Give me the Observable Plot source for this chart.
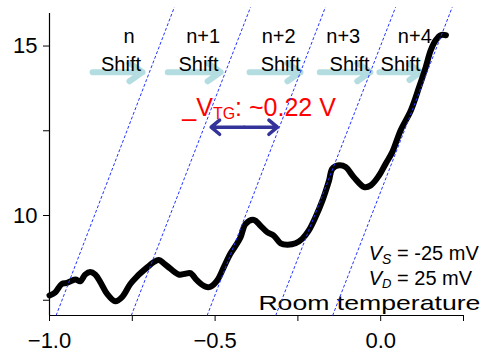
<!DOCTYPE html>
<html><head><meta charset="utf-8">
<script src="https://cdn.jsdelivr.net/npm/d3@7"></script>
<script src="https://cdn.jsdelivr.net/npm/@observablehq/plot@0.6"></script>
<style>html,body{margin:0;padding:0;background:#fff;}</style>
</head><body><div id="chart"></div>
<script>
// Measured curve (top-gate voltage in V, current)
const vtg = [-1.000,-0.983,-0.963,-0.947,-0.922,-0.907,-0.892,-0.877,-0.862,-0.846,-0.826,-0.801,-0.781,-0.756,-0.736,-0.705,-0.686,-0.670,-0.655,-0.635,-0.610,-0.590,-0.575,-0.554,-0.529,-0.514,-0.494,-0.474,-0.454,-0.438,-0.423,-0.408,-0.383,-0.363,-0.343,-0.323,-0.302,-0.282,-0.257,-0.237,-0.217,-0.197,-0.176,-0.156,-0.146,-0.126,-0.106,-0.081,-0.050,-0.030,-0.005,0.015,0.035,0.060,0.091,0.116,0.136,0.151,0.166,0.181,0.197];
const current = [7.64,7.73,7.98,8.01,8.11,8.06,8.26,8.33,8.26,8.03,7.69,7.47,7.59,7.98,8.20,8.47,8.62,8.69,8.59,8.43,8.26,8.28,8.30,8.08,7.90,7.90,8.08,8.47,8.87,9.11,9.36,9.75,9.87,9.70,9.51,9.41,9.18,9.14,9.18,9.31,9.56,9.95,10.44,11.03,11.38,11.48,11.43,11.13,10.84,10.89,11.18,11.53,11.87,12.51,13.10,13.79,14.38,14.87,15.17,15.32,15.32];

// Dashed shift lines (x at bottom and at top)
const shiftLineBottomX = [-0.980,-0.753,-0.524,-0.317,-0.145];
const shiftLineTopX = [-0.623,-0.393,-0.167,0.045,0.216];
const shiftLineY = [7.05, 16.146];

// Annotations
const orderLabels = ["n","n+1","n+2","n+3","n+4"];
const orderX = [-0.760,-0.536,-0.308,-0.113,0.103];
const orderY = 15.10;
const shiftWord = "Shift";
const shiftX = [-0.784,-0.550,-0.302,-0.094,0.060];
const shiftY = 14.26;
const shiftArrowX1 = [-0.870,-0.643,-0.396,-0.184,-0.004];
const shiftArrowX2 = [-0.719,-0.483,-0.242,-0.031,0.121];
const shiftArrowY = 14.23;
const deltaLabel = "_V_TG: ~0.22 V";
const deltaLabelPos = {x: -0.599, y: 12.95};
const deltaArrow = {x1: -0.512, x2: -0.312, y: 12.606};
const vsLabel = "V_S = -25 mV";
const vdLabel = "V_D = 25 mV";
const roomLabel = "Room temperature";
const condX = -0.036, vsY = 8.68, vdY = 7.945, roomX = 0.301, roomY = 7.20;

// Axes
const xDomain = [-1, 0.25];
const yDomain = [7.05, 15.96];
const xTickValues = [-1, -0.75, -0.5, -0.25, 0, 0.25];
const xTickLabels = ["\u22121.0", "", "\u22120.5", "", "0.0", ""];
const yTickValues = [7.5, 10, 12.5, 15];
const yTickLabels = ["", "10", "", "15"];

const points = vtg.map((x, i) => ({x, y: current[i]}));
const shiftLines = shiftLineBottomX.map((x1, i) => ({x1, x2: shiftLineTopX[i], y1: shiftLineY[0], y2: shiftLineY[1]}));
const orders = orderLabels.map((t, i) => ({t, x: orderX[i], y: orderY}));
const shifts = shiftX.map(x => ({t: shiftWord, x, y: shiftY}));
const shiftArrows = shiftArrowX1.map((x1, i) => ({x1, x2: shiftArrowX2[i], y: shiftArrowY}));
const mid = (deltaArrow.x1 + deltaArrow.x2) / 2;
const dArrows = [{x1: mid, x2: deltaArrow.x1, y: deltaArrow.y}, {x1: mid, x2: deltaArrow.x2, y: deltaArrow.y}];

const font = "'Liberation Sans', Arial, sans-serif";

const chart = Plot.plot({
  width: 486, height: 354,
  marginLeft: 49, marginRight: 23, marginTop: 13, marginBottom: 39,
  style: {fontFamily: font, fontSize: "22px", color: "#000", background: "#fff", overflow: "visible"},
  x: {domain: xDomain, ticks: xTickValues, tickFormat: d => xTickLabels[xTickValues.indexOf(d)], tickSize: 6, tickPadding: 11, label: null},
  y: {domain: yDomain, ticks: yTickValues, tickFormat: d => yTickLabels[yTickValues.indexOf(d)], tickSize: 6, tickPadding: 6, label: null},
  marks: [
    Plot.ruleX([xDomain[0]], {y1: yDomain[0], y2: yDomain[1], stroke: "#000", strokeWidth: 1.2}),
    Plot.ruleY([yDomain[0]], {x1: xDomain[0], x2: xDomain[1], stroke: "#000", strokeWidth: 1.2}),
    Plot.arrow(shiftArrows, {x1: "x1", x2: "x2", y1: "y", y2: "y", stroke: "#b3dde0", strokeWidth: 6, headLength: 4, headAngle: 70}),
    Plot.text(orders, {x: "x", y: "y", text: "t", fontSize: 20, textAnchor: "middle", lineAnchor: "bottom", fill: "#000"}),
    Plot.text(shifts, {x: "x", y: "y", text: "t", fontSize: 20, textAnchor: "middle", lineAnchor: "bottom", fill: "#000"}),
    Plot.text([deltaLabel], {x: deltaLabelPos.x, y: deltaLabelPos.y, text: d => d, fontSize: 25, textAnchor: "start", lineAnchor: "bottom", fill: "#ff0000"}),
    Plot.arrow(dArrows, {x1: "x1", x2: "x2", y1: "y", y2: "y", stroke: "#333399", strokeWidth: 3.5, headLength: 11, headAngle: 80}),
    Plot.text([vsLabel], {x: condX, y: vsY, text: d => d, fontSize: 20, textAnchor: "start", lineAnchor: "bottom", fill: "#000"}),
    Plot.text([vdLabel], {x: condX, y: vdY, text: d => d, fontSize: 20, textAnchor: "start", lineAnchor: "bottom", fill: "#000"}),
    Plot.text([roomLabel], {x: roomX, y: roomY, text: d => d, fontSize: 21, textAnchor: "end", lineAnchor: "bottom", fill: "#000"}),
    Plot.line(points, {x: "x", y: "y", stroke: "#000", strokeWidth: 6, curve: "catmull-rom", strokeLinejoin: "round", strokeLinecap: "round"}),
    Plot.link(shiftLines, {x1: "x1", x2: "x2", y1: "y1", y2: "y2", stroke: "#2233ff", strokeWidth: 1, strokeDasharray: "3,2"})
  ]
});

function enrich(svg, plain, parts) {
  d3.select(svg).selectAll("text").filter(function () { return this.textContent === plain; }).each(function () {
    const t = d3.select(this);
    t.text(null);
    let shift = 0;
    parts.forEach(p => {
      const ts = t.append("tspan").text(p.t);
      if (p.italic) ts.attr("font-style", "italic");
      if (p.size) ts.attr("font-size", p.size);
      const target = p.shift || 0;
      if (target !== shift) { ts.attr("dy", target - shift); shift = target; }
    });
  });
}
enrich(chart, deltaLabel, [{t: "_V"}, {t: "TG", size: 16, shift: 3.5}, {t: ": ~0.22 V"}]);
enrich(chart, vsLabel, [{t: "V", italic: true}, {t: "S", italic: true, size: 14, shift: 4}, {t: " = -25 mV"}]);
enrich(chart, vdLabel, [{t: "V", italic: true}, {t: "D", italic: true, size: 13, shift: 3}, {t: " = 25 mV"}]);
d3.select(chart).selectAll("text").filter(function () { return this.textContent === roomLabel; })
  .attr("textLength", 222).attr("lengthAdjust", "spacingAndGlyphs");

document.getElementById("chart").appendChild(chart);
</script>
</body></html>
